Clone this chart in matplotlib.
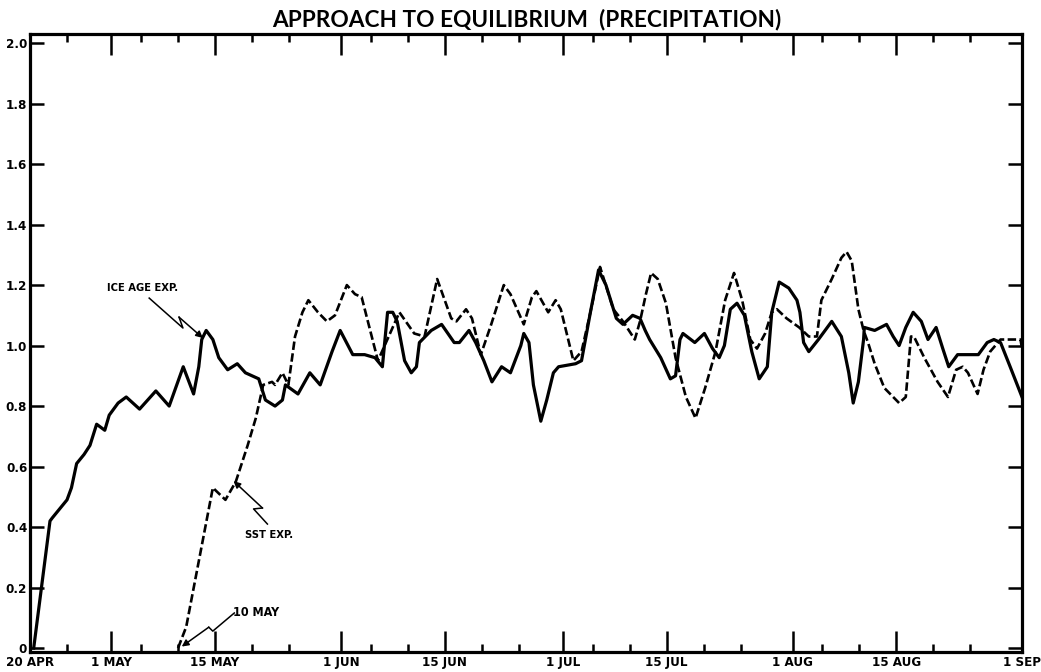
import numpy as np
import matplotlib
matplotlib.use("Agg")
import matplotlib.pyplot as plt

# ---------------- data (days after 20 APR, relative precipitation)
ice_days = [0.5, 2.7, 3.0, 4.0, 5.0, 5.6, 6.3, 7.3, 8.1, 9.0,
            10.1, 10.7, 11.9, 13.0, 14.8, 17.0, 18.8, 20.7, 22.1, 22.8,
            23.2, 23.8, 24.7, 25.5, 26.7, 28.0, 29.1, 30.9, 31.8, 33.1,
            34.1, 34.5, 36.2, 37.8, 39.2, 40.8, 41.9, 43.6, 45.2, 46.6,
            47.6, 48.3, 49.0, 49.6, 50.6, 51.5, 52.2, 52.6, 54.2, 55.6,
            57.3, 58.0, 59.3, 60.2, 61.3, 62.4, 63.7, 64.9, 66.3, 66.7,
            67.4, 68.0, 69.0, 69.8, 70.7, 71.4, 73.7, 74.5, 75.7, 76.8,
            77.8, 79.2, 80.1, 81.4, 82.4, 83.1, 83.7, 85.2, 86.5, 87.2,
            87.8, 88.2, 89.8, 91.1, 92.2, 93.1, 93.8, 94.6, 95.5, 96.5,
            97.5, 98.5, 99.6, 100.2, 101.2, 102.5, 103.6, 104.0, 104.5, 105.2,
            106.5, 108.3, 109.6, 110.6, 111.2, 111.9, 112.6, 112.7, 114.1, 115.7,
            116.6, 117.4, 118.3, 119.3, 120.4, 121.3, 122.4, 123.3, 124.1, 125.3,
            128.1, 129.3, 130.2, 131.1, 132.4, 134.0]
ice_vals = [0.0, 0.42, 0.43, 0.46, 0.49, 0.53, 0.61, 0.64, 0.67, 0.74,
            0.72, 0.77, 0.81, 0.83, 0.79, 0.85, 0.80, 0.93, 0.84, 0.93,
            1.02, 1.05, 1.02, 0.96, 0.92, 0.94, 0.91, 0.89, 0.82, 0.80,
            0.82, 0.87, 0.84, 0.91, 0.87, 0.98, 1.05, 0.97, 0.97, 0.96,
            0.93, 1.11, 1.11, 1.08, 0.95, 0.91, 0.93, 1.01, 1.05, 1.07,
            1.01, 1.01, 1.05, 1.01, 0.95, 0.88, 0.93, 0.91, 1.00, 1.04,
            1.01, 0.87, 0.75, 0.82, 0.91, 0.93, 0.94, 0.95, 1.11, 1.25,
            1.20, 1.09, 1.07, 1.10, 1.09, 1.05, 1.02, 0.96, 0.89, 0.90,
            1.02, 1.04, 1.01, 1.04, 0.99, 0.96, 1.00, 1.12, 1.14, 1.10,
            0.98, 0.89, 0.93, 1.11, 1.21, 1.19, 1.15, 1.11, 1.01, 0.98,
            1.02, 1.08, 1.03, 0.91, 0.81, 0.88, 1.02, 1.06, 1.05, 1.07,
            1.03, 1.00, 1.06, 1.11, 1.08, 1.02, 1.06, 0.99, 0.93, 0.97,
            0.97, 1.01, 1.02, 1.01, 0.93, 0.83]

sst_days = [20.0, 21.1, 24.7, 26.4, 27.8, 29.4, 30.5, 31.5, 32.7, 33.1,
            34.1, 34.9, 35.8, 36.8, 37.6, 38.9, 40.1, 41.2, 42.8, 43.9,
            44.8, 47.0, 49.9, 51.9, 53.3, 55.0, 56.9, 57.6, 58.9, 59.7,
            60.9, 62.3, 64.0, 64.9, 66.7, 67.8, 68.4, 70.0, 71.0, 71.7,
            73.4, 74.5, 75.7, 77.0, 78.8, 80.1, 81.7, 82.4, 83.2, 83.9,
            84.8, 85.9, 87.2, 88.6, 89.9, 91.2, 92.6, 93.9, 95.1, 96.2,
            97.3, 98.2, 99.3, 100.2, 100.9, 102.2, 103.9, 105.2, 106.3, 106.9,
            108.3, 109.6, 110.3, 111.0, 111.9, 112.6, 113.2, 114.1, 115.4, 117.4,
            118.3, 119.0, 119.4, 120.8, 122.6, 124.0, 125.1, 126.0, 126.7, 128.0,
            128.8, 129.7, 131.1, 132.4, 133.8, 134.0]
sst_vals = [0.0, 0.07, 0.53, 0.49, 0.55, 0.67, 0.76, 0.87, 0.88, 0.87,
            0.91, 0.87, 1.03, 1.11, 1.15, 1.11, 1.08, 1.10, 1.20, 1.17,
            1.16, 0.95, 1.11, 1.04, 1.03, 1.22, 1.09, 1.08, 1.12, 1.09,
            0.97, 1.07, 1.20, 1.17, 1.07, 1.16, 1.18, 1.11, 1.15, 1.12,
            0.95, 0.98, 1.11, 1.26, 1.12, 1.08, 1.02, 1.08, 1.17, 1.24,
            1.22, 1.14, 0.96, 0.83, 0.76, 0.86, 0.98, 1.15, 1.24, 1.15,
            1.02, 0.99, 1.04, 1.11, 1.12, 1.09, 1.06, 1.03, 1.03, 1.15,
            1.22, 1.29, 1.31, 1.28, 1.12, 1.05, 1.01, 0.94, 0.86, 0.81,
            0.83, 1.03, 1.03, 0.96, 0.88, 0.83, 0.92, 0.93, 0.91, 0.84,
            0.92, 0.98, 1.02, 1.02, 1.02, 0.99]

date_ticks = [0, 11, 25, 42, 56, 72, 86, 103, 117, 134]
date_labels = ['20 APR', '1 MAY', '15 MAY', '1 JUN', '15 JUN', '1 JUL',
               '15 JUL', '1 AUG', '15 AUG', '1 SEP']
minor_days = [5, 15, 20, 30, 35, 46, 51, 61, 66, 76, 81, 91, 96,
              107, 112, 122, 127]
y_ticks = [0, 0.2, 0.4, 0.6, 0.8, 1.0, 1.2, 1.4, 1.6, 1.8, 2.0]
y_labels = ['0', '0.2', '0.4', '0.6', '0.8', '1.0', '1.2', '1.4', '1.6', '1.8', '2.0']

# ---------------- figure
lab = dict(family='DejaVu Sans', fontstretch='condensed', fontweight='bold')
fig = plt.figure(figsize=(10.41, 6.72), dpi=100)
ax = fig.add_axes([30 / 1041, 20 / 672, 992 / 1041, 618 / 672])

ax.plot(ice_days, ice_vals, color='black', lw=2.3, solid_joinstyle='round')
ax.plot(sst_days, sst_vals, color='black', lw=1.9, linestyle=(0, (3.2, 1.3)))

ax.set_xlim(0, 134)
ax.set_ylim(-0.013, 2.03)

ax.set_xticks(date_ticks)
ax.set_xticklabels(date_labels, fontsize=9.5, **lab)
ax.set_xticks(minor_days, minor=True)
ax.set_yticks(y_ticks)
ax.set_yticklabels(y_labels, fontsize=9.5, **lab)

ax.tick_params(axis='both', which='both', direction='in', top=True, right=True,
               color='black', width=1.8)
ax.tick_params(axis='x', which='major', length=15, pad=3)
ax.tick_params(axis='x', which='minor', length=6)
ax.tick_params(axis='y', which='major', length=10, pad=2)
for s in ax.spines.values():
    s.set_linewidth(2.3)

# ---------------- annotations (zigzag arrows)
def zigzag(pts, tip, text, text_xy, size=8):
    xs = [p[0] for p in pts]
    ys = [p[1] for p in pts]
    ax.plot(xs, ys, color='black', lw=1.1)
    ax.annotate('', xy=tip, xytext=pts[-1],
                arrowprops=dict(arrowstyle='-|>', color='black', lw=1.1,
                                mutation_scale=10, shrinkA=0, shrinkB=0))
    ax.text(text_xy[0], text_xy[1], text, fontsize=size, ha='center',
            va='center', **lab)

zigzag([(16.1, 1.157), (20.66, 1.058), (20.13, 1.094)], (23.35, 1.025),
       'ICE AGE EXP.', (15.2, 1.19))
zigzag([(32.07, 0.41), (30.2, 0.46), (31.4, 0.463)], (27.5, 0.552),
       'SST EXP.', (32.3, 0.375))
zigzag([(27.6, 0.116), (24.69, 0.056), (24.15, 0.069)], (20.5, 0.005),
       '10 MAY', (30.6, 0.116), size=9)

fig.text(527 / 1041, 1 - 19 / 672, 'APPROACH TO EQUILIBRIUM  (PRECIPITATION)',
         ha='center', va='center', fontsize=16.3, fontweight='bold',
         family=['Lato', 'DejaVu Sans'])

fig.savefig('out.png', dpi=100)
